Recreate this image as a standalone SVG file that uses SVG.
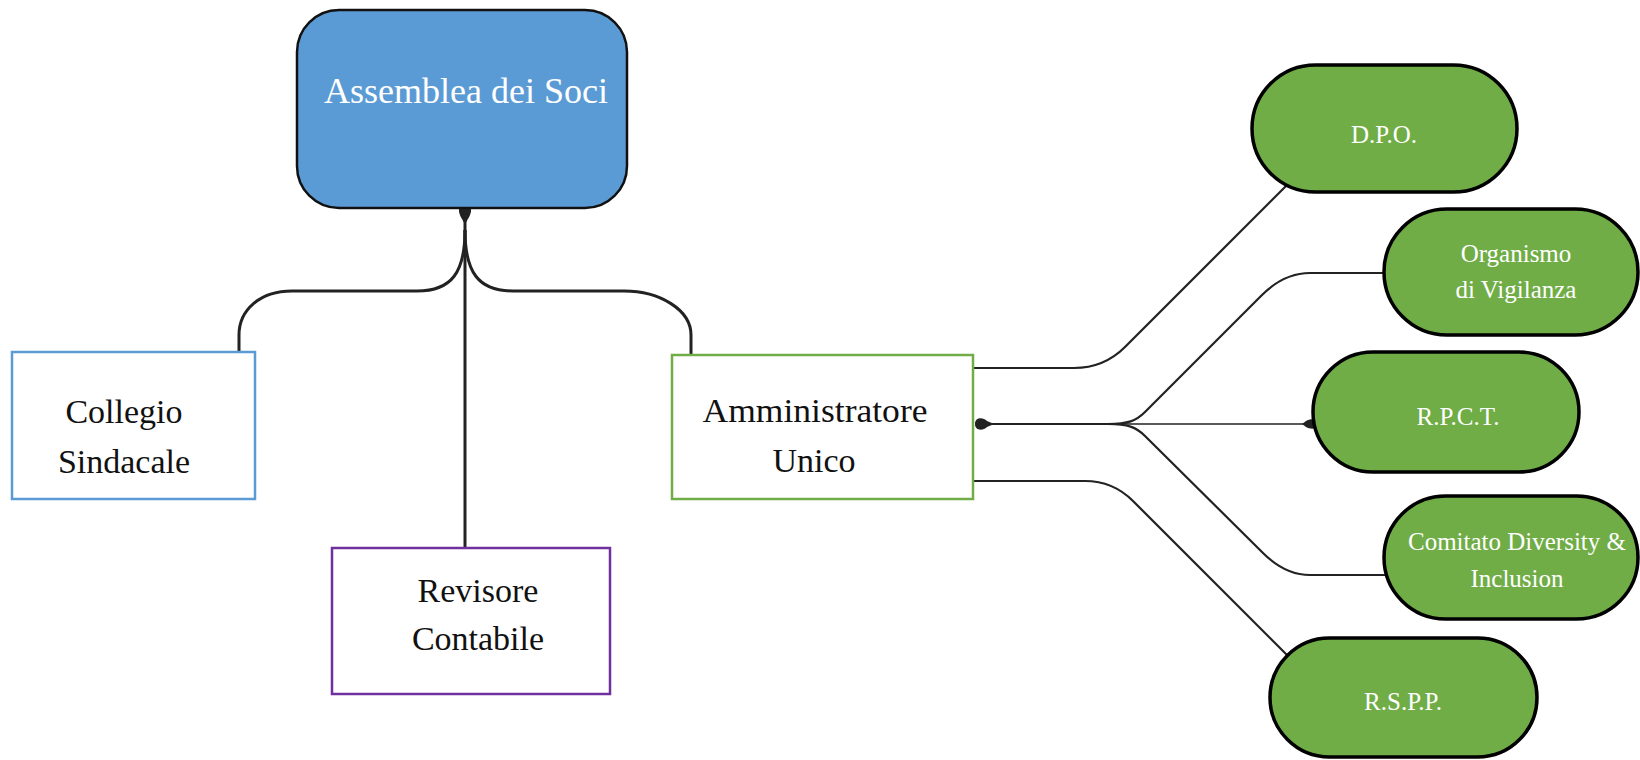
<svg xmlns="http://www.w3.org/2000/svg" width="1640" height="760" viewBox="0 0 1640 760">
<style>
  .t { font-family: "Liberation Serif", "Times New Roman", serif; text-anchor: middle; }
  .dark { fill: #111111; font-size: 34px; }
  .white { fill: #ffffff; }
  .pill { fill: #70AD47; stroke: #000000; stroke-width: 3.5; }
  .pt { font-size: 25px; }
  .box { fill: #ffffff; stroke-width: 2.5; }
  .conn { fill: none; stroke: #222222; }
  .thick { stroke-width: 3; }
  .mid { stroke-width: 2.2; }
  .thin { stroke-width: 1.6; }
  .dot { fill: #222222; }
</style>
<rect width="1640" height="760" fill="#ffffff"/>

<g id="connectors">
  <!-- Assemblea tree -->
  <path class="conn thick" d="M465 212 V548"/>
  <path class="conn thick" d="M465 230 C465 272 452 291 417 291 H292 C260 291 239 310 239 335 V352"/>
  <path class="conn thick" d="M465 230 C465 272 478 291 513 291 H624 C660 291 691 310 691 335 V355"/>
  <path class="dot" d="M459 209 C459 216 462 218 463.5 222 H466.5 C468 218 471 216 471 209 Z"/>
  <ellipse class="dot" cx="465" cy="211" rx="6" ry="4"/>

  <!-- Amministratore fan -->
  <path class="conn mid" d="M973 368 H1074 Q1104 368 1125 347 L1287 185"/>
  <path class="conn mid" d="M980 424 H1122"/>
  <path class="conn thin" d="M1122 424 H1312"/>
  <path class="conn mid" d="M1108 424 C1128 424 1136 421 1145 412 L1262 295 Q1284 273 1310 273 H1386"/>
  <path class="conn mid" d="M1108 424 C1128 424 1136 427 1145 436 L1263 553 Q1285 575 1310 575 H1386"/>
  <path class="conn mid" d="M973 481 H1085 Q1113 481 1133 501 L1290 658"/>
  <path class="dot" d="M975 424 C975 417 983 417 987 421 L993 423.5 L993 424.5 L987 427 C983 431 975 431 975 424 Z"/>
  <path class="dot" d="M1302 424 L1306 421 C1309 419 1314 419 1316 420 L1316 428 C1314 429 1309 429 1306 427 Z"/>
</g>

<g id="assemblea">
  <rect x="297" y="10" width="330" height="198" rx="42" fill="#5B9BD5" stroke="#111111" stroke-width="2.5"/>
  <text class="t white" x="466" y="103" font-size="36">Assemblea dei Soci</text>
</g>

<g id="collegio">
  <rect class="box" x="12" y="352" width="243" height="147" stroke="#5B9BD5"/>
  <text class="t dark" x="124" y="423">Collegio</text>
  <text class="t dark" x="124" y="473">Sindacale</text>
</g>

<g id="revisore">
  <rect class="box" x="332" y="548" width="278" height="146" stroke="#7030A0"/>
  <text class="t dark" x="478" y="602">Revisore</text>
  <text class="t dark" x="478" y="650">Contabile</text>
</g>

<g id="amministratore">
  <rect class="box" x="672" y="355" width="301" height="144" stroke="#70AD47"/>
  <text class="t dark" x="815" y="422" textLength="225" lengthAdjust="spacingAndGlyphs">Amministratore</text>
  <text class="t dark" x="814" y="472">Unico</text>
</g>

<g id="dpo">
  <rect class="pill" x="1252" y="65" width="265" height="127" rx="63.5"/>
  <text class="t white pt" x="1384" y="143">D.P.O.</text>
</g>

<g id="odv">
  <rect class="pill" x="1384" y="209" width="254" height="126" rx="63"/>
  <text class="t white pt" x="1516" y="262">Organismo</text>
  <text class="t white pt" x="1516" y="298">di Vigilanza</text>
</g>

<g id="rpct">
  <rect class="pill" x="1313" y="352" width="266" height="120" rx="60"/>
  <text class="t white pt" x="1458" y="425">R.P.C.T.</text>
</g>

<g id="comitato">
  <rect class="pill" x="1384" y="496" width="254" height="123" rx="61.5"/>
  <text class="t white pt" x="1517" y="550">Comitato Diversity &amp;</text>
  <text class="t white pt" x="1517" y="587">Inclusion</text>
</g>

<g id="rspp">
  <rect class="pill" x="1270" y="638" width="267" height="119" rx="59.5"/>
  <text class="t white pt" x="1403" y="710">R.S.P.P.</text>
</g>
</svg>
